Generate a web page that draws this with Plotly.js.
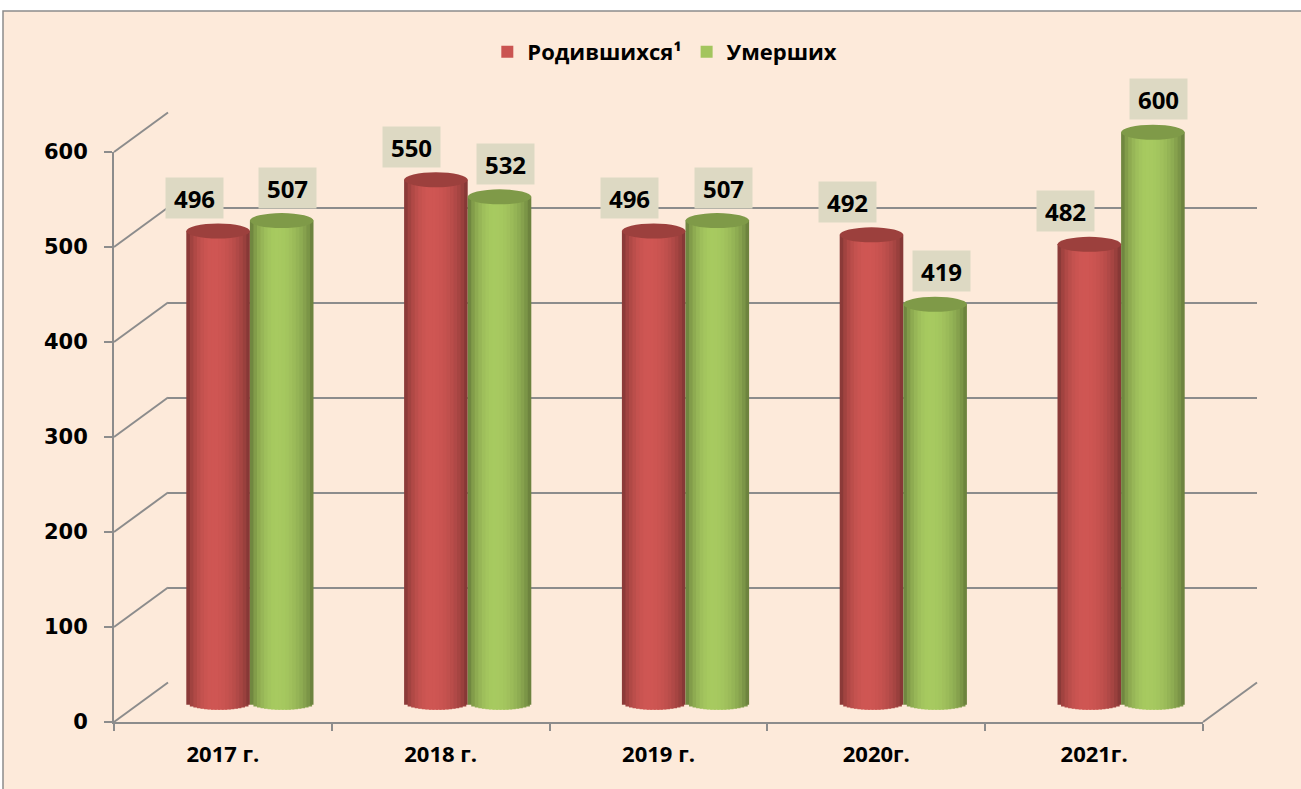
<!DOCTYPE html>
<html><head><meta charset="utf-8">
<script src="https://cdn.plot.ly/plotly-3.0.1.min.js"></script>
<style>html,body{margin:0;padding:0;background:#fff;overflow:hidden}#chart{width:1301px;height:789px}</style>
</head><body><div id="chart"></div>
<script>
// ---- data ----
const categories = ['2017 г.', '2018 г.', '2019 г.', '2020г.', '2021г.'];
const born = [496, 550, 496, 492, 482];
const died = [507, 532, 507, 419, 600];
const seriesNames = ['Родившихся¹', 'Умерших'];
const yTicks = [0, 100, 200, 300, 400, 500, 600];

// ---- geometry (pixels) ----
const W = 1301, H = 789;
const FRONT = {left: 114, right: 1203, bottom: 722, top: 152};
const DEPTH = {dx: 54, dy: 39.5};
const YMAX = 600;
const nCat = categories.length;
const pxPerUnit = (FRONT.bottom - FRONT.top) / YMAX;
const catPx = (FRONT.right - FRONT.left) / nCat;
const px = v => v / W;
const py = v => 1 - v / H;
function xDomain(xLeft, a, b) { return [px(xLeft + (a + 0.5) * catPx), px(xLeft + (b + 0.5) * catPx)]; }
function yDomain(y0, a, b) { return [py(y0 - a * pxPerUnit), py(y0 - b * pxPerUnit)]; }
const dxC = DEPTH.dx / catPx, dyU = DEPTH.dy / pxPerUnit;

const GRID = '#8C8C8C';
const FONT = '"Open Sans", "Noto Sans", sans-serif';
const idx = categories.map((_, i) => i);

const traces = [];
// back wall subplot (xy)
traces.push({x: [0, 1], y: [0, 0], xaxis: 'x', yaxis: 'y', mode: 'lines', line: {width: 0}, hoverinfo: 'skip', showlegend: false});
// diagonal connectors (x2y2)
const dX = [], dY = [];
yTicks.forEach(v => { dX.push(-0.5, -0.5 + dxC, null); dY.push(v, v + dyU, null); });
dX.push(nCat - 0.5, nCat - 0.5 + dxC, null); dY.push(0, dyU, null);
traces.push({x: dX, y: dY, xaxis: 'x2', yaxis: 'y2', mode: 'lines', line: {color: GRID, width: 2}, hoverinfo: 'skip', showlegend: false});
// front axes holder (x3y3)
traces.push({x: categories, y: categories.map(() => 0), xaxis: 'x3', yaxis: 'y3', mode: 'markers', marker: {opacity: 0}, hoverinfo: 'skip', showlegend: false});

// cylinders (x4y4)
const barW = 0.292;
const N = 18;
const eU = 7.5 / pxPerUnit;
const series = [
  {name: seriesNames[0], vals: born, off: -barW, rgb: [192, 80, 77], top: '#9C403D', lab: -24},
  {name: seriesNames[1], vals: died, off: 0, rgb: [155, 187, 89], top: '#7F9A48', lab: 6}
];
function shade(rgb, t) {
  const t0 = 0.42;
  const s = t < t0 ? Math.sin(Math.PI / 2 * t / t0) : Math.sin(Math.PI / 2 * (1 - t) / (1 - t0));
  const f = 0.6 + 0.48 * Math.pow(Math.max(s, 0), 0.6);
  return 'rgb(' + rgb.map(c => Math.min(255, Math.round(c * f))).join(',') + ')';
}
const shapes = [];
const annotations = [];
series.forEach(s => {
  const sw = barW / N;
  let legendDone = false;
  for (let k = 0; k < N; k++) {
    const t = (k + 0.5) / N;
    const u = 2 * t - 1;
    const base = -eU * Math.sqrt(Math.max(0, 1 - u * u));
    const col = shade(s.rgb, t);
    const showL = !legendDone && k === Math.round(N * 0.25);
    if (showL) legendDone = true;
    traces.push({
      type: 'bar', x: idx, y: s.vals.map(v => v - base), base: base,
      xaxis: 'x4', yaxis: 'y4',
      width: idx.map(() => (k < N - 1 ? sw * 1.6 : sw)),
      offset: idx.map(() => s.off + k * sw),
      marker: {color: col, line: {width: 0}},
      name: s.name, legendgroup: s.name, showlegend: showL,
      hoverinfo: 'skip'
    });
  }
  s.vals.forEach((v, i) => {
    shapes.push({type: 'circle', xref: 'x4', yref: 'y4', layer: 'above',
      x0: i + s.off, x1: i + s.off + barW, y0: v - eU, y1: v + eU,
      fillcolor: s.top, line: {width: 0}});
    annotations.push({xref: 'x4', yref: 'y4', x: i + s.off + barW / 2, y: v,
      text: String(v), showarrow: false, xanchor: 'center', yanchor: 'middle',
      xshift: s.lab, yshift: 33, bgcolor: '#DDD9C3', borderpad: 6, width: 45, height: 28,
      font: {family: FONT, size: 24, color: '#000', weight: 'bold'}});
  });
});
// chart area background
shapes.unshift({type: 'rect', xref: 'paper', yref: 'paper', layer: 'below',
  x0: px(3), x1: 1.02, y0: -0.02, y1: py(11), fillcolor: '#FDEADA', line: {color: '#8C8C8C', width: 1.5}});

const yPad = 20;
const layout = {
  width: W, height: H,
  margin: {l: 0, r: 0, t: 0, b: 0},
  paper_bgcolor: '#FFFFFF', plot_bgcolor: 'rgba(0,0,0,0)',
  barmode: 'overlay',
  showlegend: true,
  legend: {orientation: 'h', x: 0.511, xanchor: 'center', y: py(52), yanchor: 'middle',
    font: {family: FONT, size: 22, color: '#000', weight: 'bold'}, bgcolor: 'rgba(0,0,0,0)', traceorder: 'normal'},
  xaxis: {domain: xDomain(FRONT.left + DEPTH.dx, -0.5, nCat - 0.5), range: [0, 1], anchor: 'y',
    showgrid: false, zeroline: false, showline: false, showticklabels: false, ticks: ''},
  yaxis: {domain: yDomain(FRONT.bottom - DEPTH.dy, 0, YMAX), range: [0, YMAX], anchor: 'x',
    tickvals: yTicks, showticklabels: false, ticks: '', showgrid: true, gridcolor: GRID, gridwidth: 2,
    zeroline: false, showline: false},
  xaxis2: {domain: xDomain(FRONT.left, -0.6, nCat - 0.4 + dxC), range: [-0.6, nCat - 0.4 + dxC], anchor: 'y2', visible: false},
  yaxis2: {domain: yDomain(FRONT.bottom, -5, YMAX + dyU + 5), range: [-5, YMAX + dyU + 5], anchor: 'x2', visible: false},
  xaxis3: {domain: xDomain(FRONT.left, -0.5, nCat - 0.5), type: 'category', categoryarray: categories, range: [-0.5, nCat - 0.5],
    anchor: 'y3', showline: true, linecolor: GRID, linewidth: 2, ticks: 'outside', tickson: 'boundaries',
    ticklen: 7, tickwidth: 2, tickcolor: GRID, showgrid: false, zeroline: false, ticklabelstandoff: 12,
    tickfont: {family: FONT, size: 22, color: '#000', weight: 'bold'}},
  yaxis3: {domain: yDomain(FRONT.bottom, 0, YMAX), range: [0, YMAX], anchor: 'x3', tickvals: yTicks,
    showline: true, linecolor: GRID, linewidth: 2, ticks: 'outside', ticklen: 8, tickwidth: 2, tickcolor: GRID,
    showgrid: false, zeroline: false, ticklabelstandoff: 12,
    tickfont: {family: '"DejaVu Sans", sans-serif', size: 21, color: '#000', weight: 'bold'}},
  xaxis4: {domain: xDomain(FRONT.left + DEPTH.dx / 2, -0.5, nCat - 0.5), range: [-0.5, nCat - 0.5], anchor: 'y4', visible: false},
  yaxis4: {domain: yDomain(FRONT.bottom - DEPTH.dy / 2, -yPad, 700), range: [-yPad, 700], anchor: 'x4', visible: false},
  shapes: shapes,
  annotations: annotations
};
Plotly.newPlot('chart', traces, layout, {displayModeBar: false, staticPlot: true});
</script></body></html>
